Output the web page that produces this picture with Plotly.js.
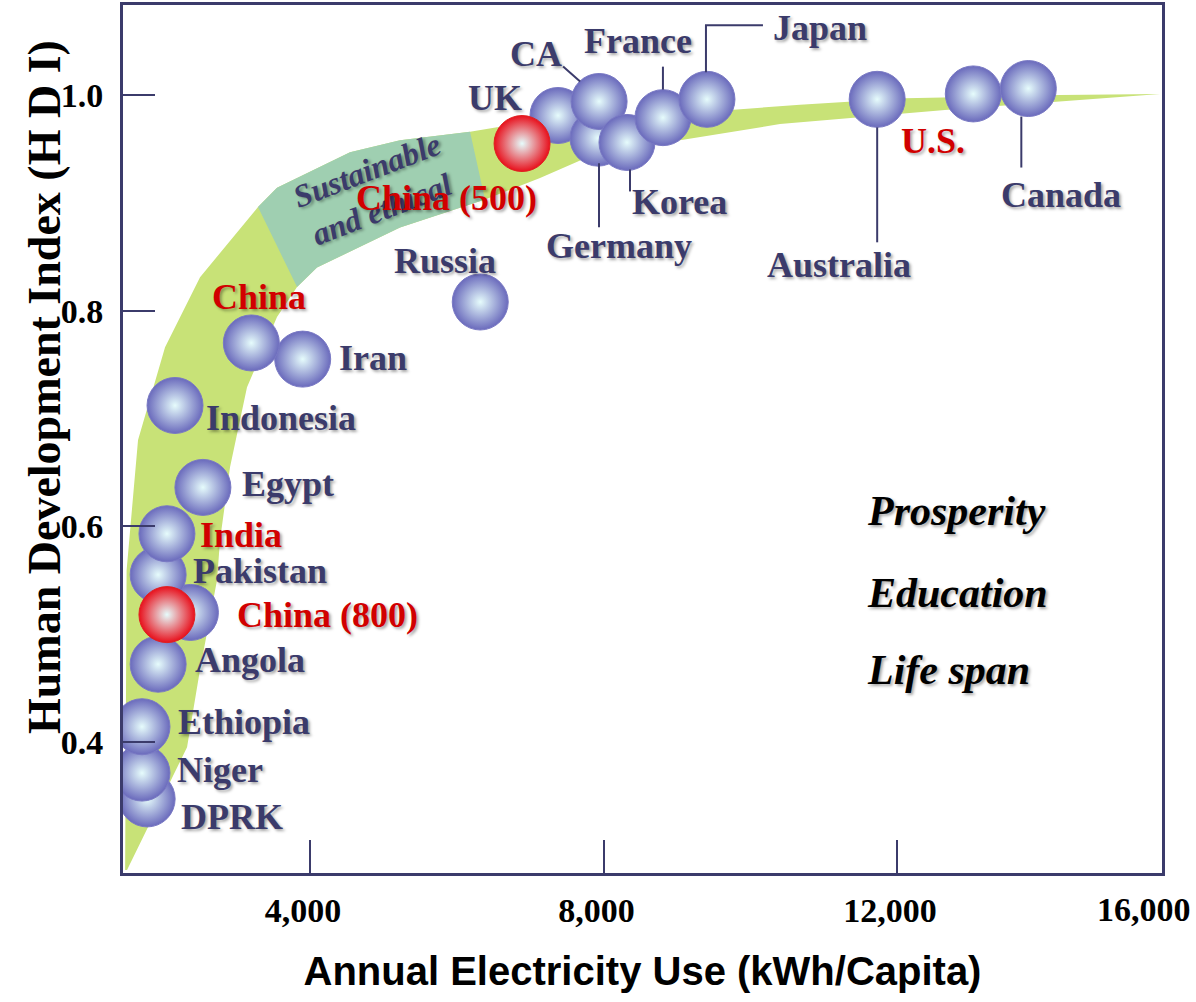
<!DOCTYPE html>
<html><head><meta charset="utf-8">
<script src="https://cdn.plot.ly/plotly-3.0.1.min.js"></script>
<style>html,body{margin:0;padding:0;background:#fff}#chart{width:1196px;height:1002px}</style>
</head><body><div id="chart"></div>
<script>
// ---------------- DATA ----------------
// Blue bubbles (listed in drawing order, back to front)
const countries = ['DPRK','Niger','Ethiopia','Angola','','Pakistan','India','Egypt','Indonesia','Iran','China','Russia','UK','Germany','CA','Korea','France','Japan','Australia','U.S.','Canada'];
const elecUse  = [1780,1710,1710,1930,2370,1930,2050,2540,2160,3900,3200,6320,7380,7925,7940,8320,8810,9410,11730,13040,13790];
const hdi      = [0.347,0.371,0.414,0.472,0.520,0.555,0.593,0.636,0.712,0.755,0.770,0.808,0.981,0.960,0.994,0.956,0.979,0.996,0.996,1.001,1.006];
// Red bubbles: China scenarios
const chinaScenarios = ['China (800)','China (500)'];
const chinaElec = [2050, 6890];
const chinaHdi  = [0.518, 0.955];
// Green band (trend corridor)
const bandElec = [1480,1500,1656,2024,2501,3291,3550,4545,5227,6181,6549,9765,10678,12109,14222,15585,
                  14222,12654,10406,9043,7775,7135,6385,5227,4095,3823,3550,3141,2910,2773,2733,2501,2324,1506];
const bandHdi  = [0.281,0.559,0.680,0.766,0.831,0.896,0.914,0.947,0.958,0.966,0.970,0.986,0.991,0.997,1.000,1.001,
                  0.994,0.986,0.973,0.958,0.942,0.923,0.903,0.877,0.840,0.822,0.794,0.729,0.655,0.587,0.550,0.467,0.395,0.281];
// "Sustainable and ethical" zone
const zoneElec = [3291,3550,4545,5227,6181,6385,5227,4095,3823];
const zoneHdi  = [0.896,0.914,0.947,0.958,0.966,0.903,0.877,0.840,0.822];
// Ticks
const xTickVals = [4000,8000,12000];
const xTickText = ['4,000','8,000','12,000'];
const xLastTickText = '16,000';
const yTickVals = [0.4,0.6,0.8,1.0];
const yTickText = ['0.4','0.6','0.8','1.0'];
const hdiFactors = ['Prosperity','Education','Life span'];

// ---------------- STYLE / POSITIONS ----------------
const NAVY = '#3b3b6b', RED = '#d10000';
const SERIF = 'Liberation Serif, Times New Roman, serif';
const SHADOW = '2px 2px 3px rgba(0,0,0,0.35)';
// label offsets in px from bubble centre: [dx, dyUp, colour]
const labelStyle = {
  'UK':[-63,17,NAVY],'CA':[-63,47,NAVY],'France':[-25,77,NAVY],'Japan':[113,71,NAVY],
  'Germany':[21,-108,NAVY],'Korea':[53,-60,NAVY],'Russia':[-35,41,NAVY],'Australia':[-38,-166,NAVY],
  'U.S.':[-40,-47,RED],'Canada':[33,-106,NAVY],'China':[8,46,RED],'Iran':[70,1,NAVY],
  'Indonesia':[106,-13,NAVY],'Egypt':[85,3,NAVY],'India':[74,-1,RED],'Pakistan':[102,4,NAVY],
  'Angola':[92,4,NAVY],'Ethiopia':[102,5,NAVY],'Niger':[78,3,NAVY],'DPRK':[85,-18,NAVY],
  'China (800)':[161,0,RED],'China (500)':[-76,-54,RED]
};
// leader lines, px paths relative to bubble centre (y up)
const leaders = {
  'CA':'M-36,35 L-19,20', 'France':'M0,51 L0,28', 'Japan':'M-1,27 L-1,74 L56,74',
  'Germany':'M1,-25 L1,-89', 'Korea':'M3,-27 L3,-49', 'Australia':'M0,-28 L0,-143',
  'Canada':'M-7,-28 L-7,-79'
};
const bold = t => '<b>' + t + '</b>';

const traces = [
  {type:'scatter', x:bandElec, y:bandHdi, mode:'lines', fill:'toself', fillcolor:'#c8e277',
   line:{width:0, color:'#c8e277'}, hoverinfo:'skip', showlegend:false},
  {type:'scatter', x:zoneElec, y:zoneHdi, mode:'lines', fill:'toself', fillcolor:'#9fcfb1',
   line:{width:0, color:'#9fcfb1'}, hoverinfo:'skip', showlegend:false},
  {type:'scatter', x:elecUse, y:hdi, mode:'markers', text:countries, showlegend:false,
   marker:{size:56, color:'#6a6abc', gradient:{type:'radial', color:'#e6fcfc'},
           line:{width:1, color:'#7a7ac4'}}},
  {type:'scatter', x:chinaElec, y:chinaHdi, mode:'markers', text:chinaScenarios, showlegend:false,
   marker:{size:56, color:'#e8101c', gradient:{type:'radial', color:'#e6fcfc'},
           line:{width:1, color:'#e02020'}}}
];

const annotations = [];
annotations.push({xref:'x', yref:'y', x:4872, y:0.912, xanchor:'center', yanchor:'middle',
  text:bold('<i>Sustainable<br>and ethical</i>'), showarrow:false,
  textangle:-21, font:{family:SERIF, size:32, color:NAVY, shadow:SHADOW}});
function addLabel(name, x, y){
  const s = labelStyle[name]; if(!s) return;
  annotations.push({xref:'x', yref:'y', x:x, y:y, xanchor:'center', yanchor:'middle', text:bold(name),
    showarrow:false, xshift:s[0], yshift:s[1],
    font:{family:SERIF, size:36, color:s[2], shadow:SHADOW}});
}
countries.forEach((c,i)=>addLabel(c, elecUse[i], hdi[i]));
chinaScenarios.forEach((c,i)=>addLabel(c, chinaElec[i], chinaHdi[i]));

const factorY = [0.417, 0.323, 0.234];
hdiFactors.forEach((t,i)=>annotations.push({xref:'paper', yref:'paper', x:0.714, y:factorY[i],
  xanchor:'left', yanchor:'middle', text:bold('<i>'+t+'</i>'), showarrow:false,
  font:{family:SERIF, size:42, color:'#000', shadow:SHADOW}}));

annotations.push({xref:'paper', yref:'paper', x:0.983, y:0, xanchor:'center', yanchor:'top', yshift:-16,
  text:bold(xLastTickText), showarrow:false, font:{family:SERIF, size:34, color:'#000'}});
annotations.push({xref:'paper', yref:'paper', x:-0.075, y:0.56, xanchor:'center', yanchor:'middle',
  text:bold('Human Development Index (H D I)'), textangle:-90, showarrow:false,
  font:{family:SERIF, size:46, color:'#000'}});

const shapes = [];
function addLeader(name, x, y){
  const p = leaders[name]; if(!p) return;
  shapes.push({type:'path', xref:'x', yref:'y', xsizemode:'pixel', ysizemode:'pixel', xanchor:x, yanchor:y,
    path:p, line:{color:NAVY, width:2}});
}
countries.forEach((c,i)=>addLeader(c, elecUse[i], hdi[i]));

const layout = {
  width:1196, height:1002, margin:{l:123, r:34, t:5, b:129},
  paper_bgcolor:'#fff', plot_bgcolor:'#fff', showlegend:false,
  xaxis:{range:[1451,15612], tickvals:xTickVals, ticktext:xTickText.map(bold), ticks:'inside', ticklen:33, tickwidth:2,
    tickcolor:NAVY, showline:true, linewidth:3, linecolor:NAVY, mirror:true, showgrid:false, zeroline:false,
    ticklabelstandoff:5, ticklabelshift:-7,
    tickfont:{family:SERIF, size:34, color:'#000'},
    title:{text:bold('Annual Electricity Use (kWh/Capita)'), standoff:30,
      font:{family:'Liberation Sans, Arial, sans-serif', size:40, color:'#000'}}},
  yaxis:{range:[0.2783,1.0835], tickvals:yTickVals, ticktext:yTickText.map(bold), ticks:'inside', ticklen:32, tickwidth:2,
    tickcolor:NAVY, showline:true, linewidth:3, linecolor:NAVY, mirror:true, showgrid:false, zeroline:false,
    ticklabelstandoff:10,
    tickfont:{family:SERIF, size:34, color:'#000'}},
  annotations:annotations, shapes:shapes
};
Plotly.newPlot('chart', traces, layout, {displayModeBar:false, staticPlot:true});
</script></body></html>
